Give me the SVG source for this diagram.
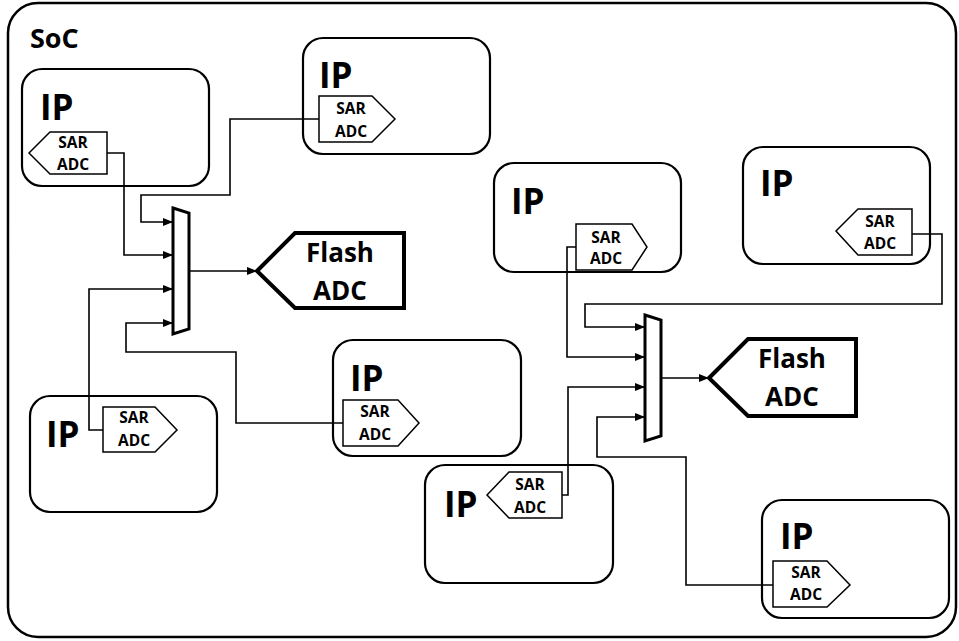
<svg xmlns="http://www.w3.org/2000/svg" width="959" height="641" viewBox="0 0 959 641">
<style>
text{font-family:"Open Sans","Liberation Sans",sans-serif;font-weight:bold;fill:#000}
.soc{fill:#fff;stroke:#000;stroke-width:2.5}
.ip{fill:#fff;stroke:#000;stroke-width:2.2}
.sar{fill:#fff;stroke:#000;stroke-width:1.5}
.flash{fill:#fff;stroke:#000;stroke-width:4;stroke-linejoin:miter}
.mux{fill:#fff;stroke:#000;stroke-width:3}
.ipt{font-size:35px}
.st{font-size:15.5px;text-anchor:middle}
.ft{font-size:26px;text-anchor:middle}
.w{fill:none;stroke:#000;stroke-width:1.6}
</style>
<defs>
<marker id="ah" markerUnits="userSpaceOnUse" markerWidth="10" markerHeight="8" refX="10" refY="4" orient="auto">
<path d="M0,0 L10,4 L0,8 z" fill="#000"/>
</marker>
</defs>
<g id="soc">
<rect class="soc" x="8" y="3" width="948" height="634" rx="30"/>
<text x="30" y="48" style="font-size:27px">SoC</text>
</g>
<g id="ip1">
<rect class="ip" x="22" y="69" width="187" height="117" rx="20"/>
<text class="ipt" x="40" y="120">IP</text>
<polygon class="sar" points="29,153 50,132 107,132 107,174 50,174"/>
<text class="st" x="73" y="148">SAR</text>
<text class="st" x="73" y="170">ADC</text>
</g>
<g id="ip2">
<rect class="ip" x="303" y="38" width="187" height="116" rx="20"/>
<text class="ipt" x="319" y="88">IP</text>
<polygon class="sar" points="319,96 372,96 395,119 372,142 319,142"/>
<text class="st" x="351" y="114">SAR</text>
<text class="st" x="351" y="137">ADC</text>
</g>
<g id="ip3">
<rect class="ip" x="30" y="396" width="187" height="116" rx="20"/>
<text class="ipt" x="46" y="447">IP</text>
<polygon class="sar" points="103,407 155,407 177,430 155,452 103,452"/>
<text class="st" x="134" y="423">SAR</text>
<text class="st" x="134" y="446">ADC</text>
</g>
<g id="ip4">
<rect class="ip" x="333" y="340" width="188" height="116" rx="20"/>
<text class="ipt" x="350" y="391">IP</text>
<polygon class="sar" points="343,400 398,400 419,423 398,446 343,446"/>
<text class="st" x="375" y="417">SAR</text>
<text class="st" x="375" y="440">ADC</text>
</g>
<g id="ip5">
<rect class="ip" x="494" y="163" width="187" height="109" rx="20"/>
<text class="ipt" x="511" y="214">IP</text>
<polygon class="sar" points="576,224 632,224 647,247 632,270 576,270"/>
<text class="st" x="606" y="243">SAR</text>
<text class="st" x="606" y="264">ADC</text>
</g>
<g id="ip6">
<rect class="ip" x="743" y="147" width="187" height="117" rx="20"/>
<text class="ipt" x="760" y="196">IP</text>
<polygon class="sar" points="836,231 858,209 912,209 912,255 858,255"/>
<text class="st" x="880" y="227">SAR</text>
<text class="st" x="880" y="249">ADC</text>
</g>
<g id="ip7">
<rect class="ip" x="425" y="465" width="188" height="118" rx="20"/>
<text class="ipt" x="444" y="517">IP</text>
<polygon class="sar" points="487,495 509,472 562,472 562,518 509,518"/>
<text class="st" x="530" y="490">SAR</text>
<text class="st" x="530" y="513">ADC</text>
</g>
<g id="ip8">
<rect class="ip" x="762" y="500" width="187" height="118" rx="20"/>
<text class="ipt" x="780" y="549">IP</text>
<polygon class="sar" points="773,561 827,561 850,585 827,607 773,607"/>
<text class="st" x="806" y="578">SAR</text>
<text class="st" x="806" y="600">ADC</text>
</g>
<g id="mux1">
<polygon class="mux" points="173,208 189,213 189,329 173,334"/>
</g>
<g id="mux2">
<polygon class="mux" points="645,315 661,320 661,436 645,441"/>
</g>
<g id="flash1">
<polygon class="flash" points="257,271 295,233 404,233 404,308 295,308"/>
<text class="ft" x="340" y="262">Flash</text>
<text class="ft" x="340" y="300">ADC</text>
</g>
<g id="flash2">
<polygon class="flash" points="709,378 748,339 856,339 856,416 748,416"/>
<text class="ft" x="792" y="368">Flash</text>
<text class="ft" x="792" y="406">ADC</text>
</g>
<g id="connectors">
<polyline class="w" points="319,119 230,119 230,195 141,195 141,222 173,222" marker-end="url(#ah)"/>
<polyline class="w" points="107,153 124,153 124,255 173,255" marker-end="url(#ah)"/>
<polyline class="w" points="103,430 89,430 89,289 173,289" marker-end="url(#ah)"/>
<polyline class="w" points="343,423 236,423 236,352 126,352 126,323 173,323" marker-end="url(#ah)"/>
<polyline class="w" points="189,271 257,271" marker-end="url(#ah)"/>
<polyline class="w" points="912,234 942,234 942,304 585,304 585,327 645,327" marker-end="url(#ah)"/>
<polyline class="w" points="576,247 567,247 567,357 645,357" marker-end="url(#ah)"/>
<polyline class="w" points="562,495 568,495 568,387 645,387" marker-end="url(#ah)"/>
<polyline class="w" points="773,585 686,585 686,457 597,457 597,417 645,417" marker-end="url(#ah)"/>
<polyline class="w" points="661,378 709,378" marker-end="url(#ah)"/>
</g>
</svg>
